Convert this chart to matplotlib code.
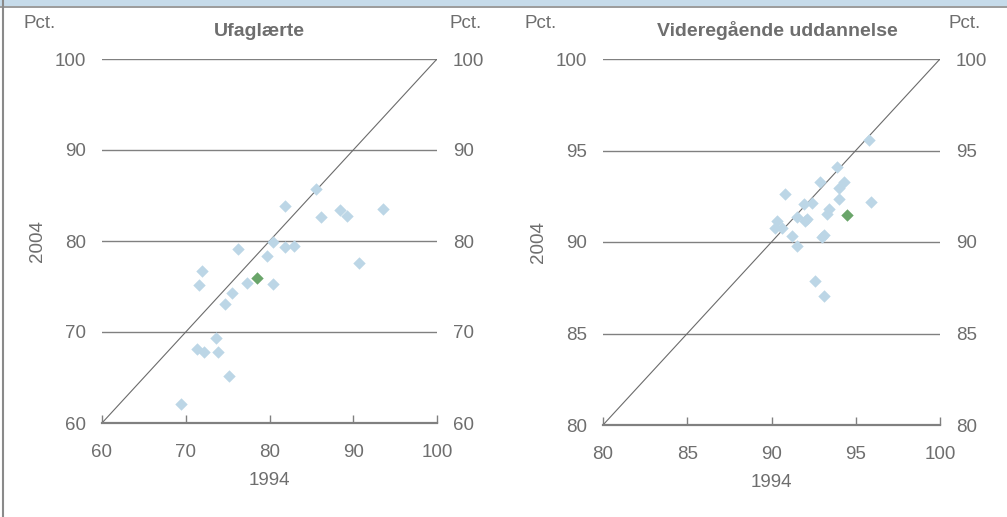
import matplotlib
matplotlib.use("Agg")
from matplotlib import pyplot as plt
from matplotlib.lines import Line2D
from matplotlib.patches import Rectangle

plt.rcParams['font.family'] = ['Liberation Sans', 'DejaVu Sans']

# Ufaglærte: share 1994 (x) vs 2004 (y)
ufag_1994 = [85.6, 81.8, 86.1, 88.4, 89.3, 93.5, 80.4, 76.2, 81.8, 82.9, 79.7, 90.7,
             71.9, 71.6, 77.3, 80.4, 75.5, 74.7, 73.6, 71.3, 72.2, 73.8, 75.2, 69.4]
ufag_2004 = [85.7, 83.8, 82.6, 83.4, 82.7, 83.5, 79.9, 79.1, 79.3, 79.5, 78.3, 77.6,
             76.7, 75.2, 75.35, 75.3, 74.25, 73.05, 69.3, 68.1, 67.8, 67.8, 65.2, 62.1]
ufag_hl = (78.5, 75.9)

# Videregående uddannelse
vid_1994 = [95.8, 93.9, 92.9, 94.3, 94.0, 90.8, 91.9, 92.4, 94.0, 95.9, 93.4, 93.3,
            91.5, 92.1, 92.0, 90.3, 90.2, 90.6, 91.2, 93.0, 93.1, 91.5, 92.6, 93.1]
vid_2004 = [95.55, 94.1, 93.3, 93.3, 92.95, 92.6, 92.1, 92.15, 92.35, 92.2, 91.8, 91.55,
            91.35, 91.25, 91.15, 91.15, 90.75, 90.75, 90.35, 90.3, 90.4, 89.8, 87.85, 87.05]
vid_hl = (94.5, 91.45)

GREY = '#6e6e6e'
LINE = '#808080'
BLUE = '#bcd6e6'
GREEN = '#6aa56a'
FS = 13.5


def panel(rect, title, title_x, xs, ys, hl, lo, hi, step):
    ax = fig.add_axes(rect)
    ax.set_xlim(lo, hi)
    ax.set_ylim(lo, hi)
    ticks = list(range(lo, hi + 1, step))
    ax.set_xticks(ticks)
    ax.set_yticks(ticks)
    for t in ticks[1:]:
        ax.axhline(t, color=LINE, lw=1.0, zorder=1)
    ax.plot([lo, hi], [lo, hi], color='#6b6b6b', lw=0.8, zorder=2)
    ax.scatter(xs, ys, marker='D', s=40, color=BLUE, linewidths=0, zorder=3)
    ax.scatter([hl[0]], [hl[1]], marker='D', s=40, color=GREEN, linewidths=0, zorder=4)
    for s in ['top', 'left', 'right']:
        ax.spines[s].set_visible(False)
    ax.spines['bottom'].set_color(LINE)
    ax.spines['bottom'].set_linewidth(1.6)
    ax.tick_params(axis='x', direction='in', length=6, width=1, color=LINE,
                   labelsize=FS, labelcolor=GREY, pad=15)
    ax.tick_params(axis='y', length=0, labelsize=FS, labelcolor=GREY, pad=11.5)
    ax.set_xlabel('1994', fontsize=FS, color=GREY, labelpad=8)
    ax.set_ylabel('2004', fontsize=FS, color=GREY, labelpad=6)
    ax2 = ax.twinx()
    ax2.set_ylim(lo, hi)
    ax2.set_yticks(ticks)
    for s in ax2.spines.values():
        s.set_visible(False)
    ax2.tick_params(axis='y', length=0, labelsize=FS, labelcolor=GREY, pad=11.5)
    ax.set_title(title, x=title_x, fontsize=14, fontweight='bold', color=GREY, pad=16.5)
    return ax


fig = plt.figure(figsize=(10.07, 5.17), dpi=100)

# frame strip
fig.patches.append(Rectangle((0, 1 - 6 / 517), 1, 6 / 517, transform=fig.transFigure,
                             facecolor='#c6dbea', edgecolor='none'))
fig.add_artist(Line2D([0, 1], [1 - 6.5 / 517] * 2, transform=fig.transFigure, color='#8a8a8a', lw=1.2))
fig.add_artist(Line2D([3 / 1007] * 2, [0, 1], transform=fig.transFigure, color='#8a8a8a', lw=1.5))

panel([102 / 1007, 1 - 423 / 517, 335 / 1007, 364 / 517], 'Ufaglærte', 0.47,
      ufag_1994, ufag_2004, ufag_hl, 60, 100, 10)
panel([603 / 1007, 1 - 425 / 517, 337 / 1007, 366 / 517], 'Videregående uddannelse', 0.516,
      vid_1994, vid_2004, vid_hl, 80, 100, 5)

for x in [39.5, 466, 540.5, 964.5]:
    fig.text(x / 1007, 1 - 23 / 517, 'Pct.', fontsize=FS, color=GREY, ha='center', va='center')

fig.savefig('out.png', dpi=100)
